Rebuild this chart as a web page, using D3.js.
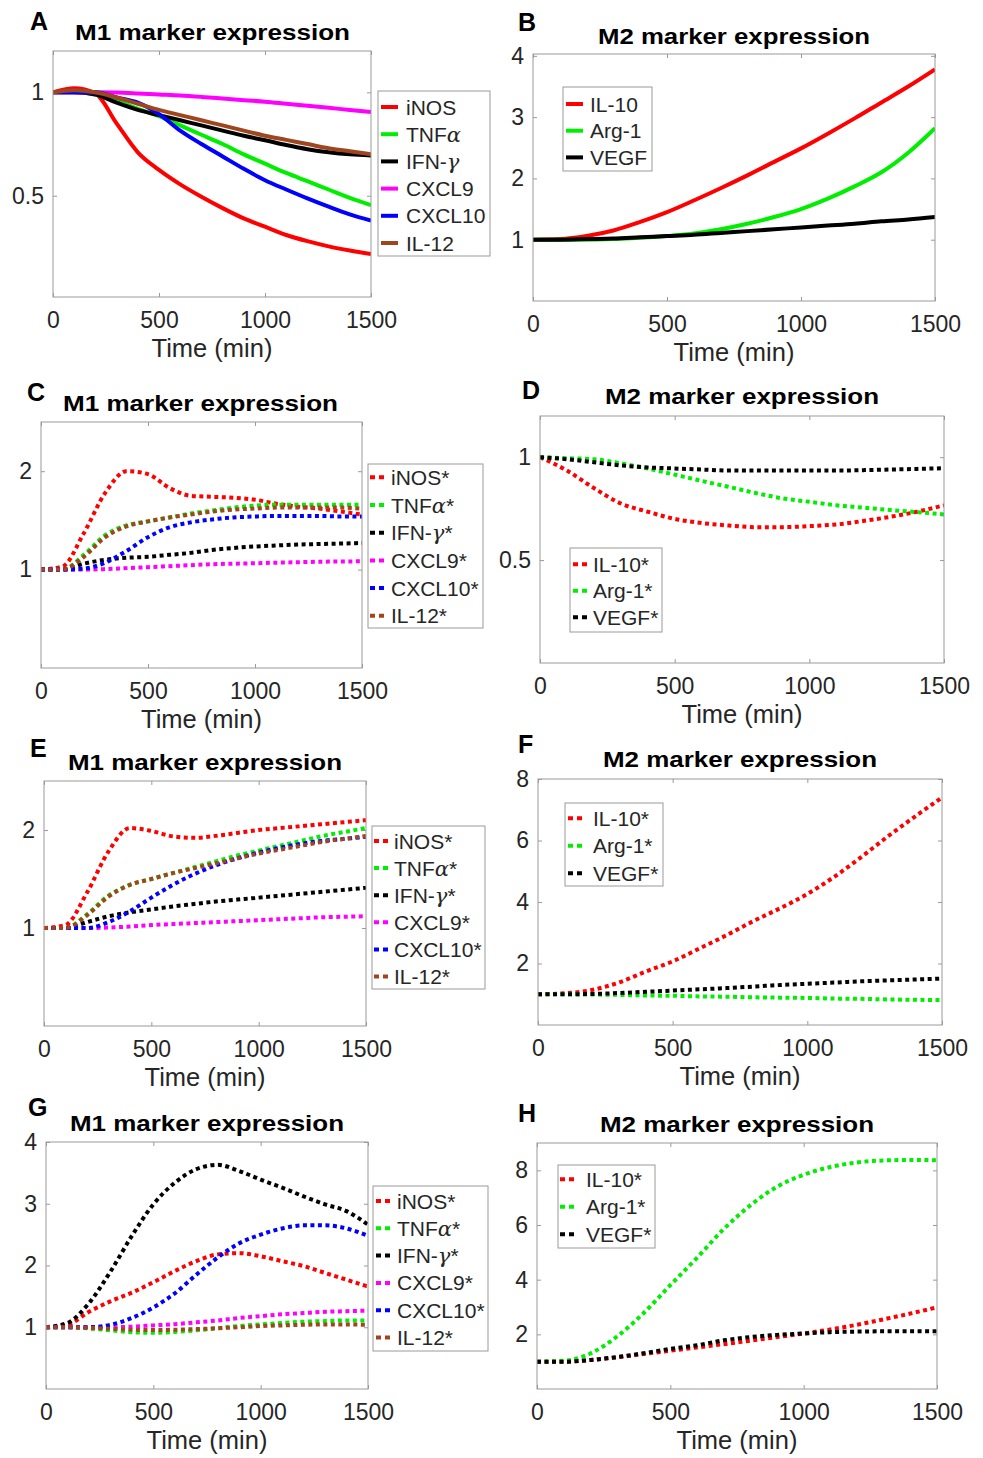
<!DOCTYPE html>
<html>
<head>
<meta charset="utf-8">
<script src="https://cdn.jsdelivr.net/npm/d3@7"></script>
<style>
  body { margin: 0; background: #fff; }
  text { font-family: "Liberation Sans", Arial, sans-serif; }
</style>
</head>
<body>
<div id="chart"></div>
<script>
// shared axes / names
const times = [0, 100, 200, 300, 400, 500, 600, 700, 800, 900, 1000, 1100, 1200, 1300, 1400, 1500];
const xTicks = [0, 500, 1000, 1500];
const m1Names = ["iNOS", "TNFα", "IFN-γ", "CXCL9", "CXCL10", "IL-12"];
const m2Names = ["IL-10", "Arg-1", "VEGF"];
const m1Colors = ["#ff0000", "#00ee00", "#000000", "#ff00ff", "#0000ff", "#a0461e"];
const m2Colors = ["#ff0000", "#00ee00", "#000000"];

// A: M1 markers
const A_yTicks = [0.5, 1];
const A_iNOS   = [1.0, 1.02, 0.995, 0.85, 0.71, 0.625, 0.555, 0.495, 0.44, 0.39, 0.35, 0.31, 0.28, 0.255, 0.235, 0.218];
const A_TNF    = [1, 1, 0.99, 0.96, 0.92, 0.885, 0.84, 0.795, 0.75, 0.70, 0.655, 0.61, 0.57, 0.53, 0.49, 0.455];
const A_IFN    = [1, 1, 0.99, 0.95, 0.915, 0.89, 0.865, 0.84, 0.815, 0.79, 0.768, 0.745, 0.725, 0.71, 0.70, 0.695];
const A_CXCL9  = [1, 1, 1, 0.999, 0.995, 0.99, 0.985, 0.978, 0.97, 0.962, 0.955, 0.945, 0.935, 0.925, 0.915, 0.905];
const A_CXCL10 = [1, 1, 1, 0.975, 0.95, 0.895, 0.815, 0.75, 0.69, 0.63, 0.575, 0.53, 0.487, 0.447, 0.41, 0.38];
const A_IL12   = [1, 1.01, 1.0, 0.975, 0.945, 0.915, 0.89, 0.865, 0.84, 0.815, 0.79, 0.77, 0.75, 0.73, 0.715, 0.70];

// B: M2 markers
const B_yTicks = [1, 2, 3, 4];
const B_IL10 = [1.0, 1.01, 1.06, 1.15, 1.29, 1.45, 1.64, 1.84, 2.05, 2.27, 2.49, 2.73, 2.98, 3.24, 3.5, 3.78];
const B_Arg1 = [1, 1, 1.0, 1.01, 1.03, 1.06, 1.1, 1.17, 1.26, 1.37, 1.5, 1.67, 1.87, 2.1, 2.42, 2.82];
const B_VEGF = [1, 1, 1.01, 1.02, 1.04, 1.06, 1.08, 1.11, 1.14, 1.17, 1.2, 1.23, 1.26, 1.3, 1.33, 1.37];

// C
const C_yTicks = [1, 2];
const C_iNOS   = [1.0, 1.03, 1.37, 1.78, 2.0, 1.97, 1.83, 1.75, 1.74, 1.73, 1.71, 1.67, 1.64, 1.62, 1.59, 1.56];
const C_TNF    = [1, 1.0, 1.15, 1.35, 1.45, 1.49, 1.53, 1.57, 1.6, 1.63, 1.65, 1.66, 1.66, 1.66, 1.66, 1.66];
const C_IFN    = [1, 1.0, 1.06, 1.1, 1.12, 1.13, 1.15, 1.17, 1.2, 1.22, 1.235, 1.245, 1.255, 1.26, 1.265, 1.27];
const C_CXCL9  = [1, 1, 1.0, 1.005, 1.015, 1.025, 1.035, 1.045, 1.055, 1.06, 1.065, 1.07, 1.075, 1.08, 1.082, 1.085];
const C_CXCL10 = [1, 1.0, 1.01, 1.07, 1.19, 1.33, 1.43, 1.48, 1.51, 1.53, 1.54, 1.545, 1.545, 1.545, 1.54, 1.54];
const C_IL12   = [1, 1.0, 1.13, 1.33, 1.44, 1.49, 1.53, 1.56, 1.59, 1.61, 1.62, 1.63, 1.63, 1.63, 1.63, 1.62];

// D
const D_yTicks = [0.5, 1];
const D_IL10 = [1.0, 0.935, 0.85, 0.775, 0.735, 0.70, 0.68, 0.668, 0.66, 0.66, 0.665, 0.673, 0.69, 0.71, 0.735, 0.766];
const D_Arg1 = [1, 0.995, 0.99, 0.97, 0.945, 0.915, 0.885, 0.856, 0.826, 0.80, 0.783, 0.766, 0.755, 0.743, 0.733, 0.722];
const D_VEGF = [1, 0.99, 0.975, 0.96, 0.95, 0.945, 0.94, 0.935, 0.935, 0.935, 0.935, 0.935, 0.937, 0.94, 0.943, 0.946];

// E
const E_yTicks = [1, 2];
const E_iNOS   = [1, 1.03, 1.36, 1.78, 2.02, 1.99, 1.935, 1.92, 1.94, 1.97, 2.0, 2.02, 2.04, 2.06, 2.08, 2.1];
const E_TNF    = [1, 1.0, 1.14, 1.33, 1.44, 1.5, 1.56, 1.62, 1.68, 1.74, 1.79, 1.84, 1.89, 1.94, 1.98, 2.02];
const E_IFN    = [1, 1.0, 1.06, 1.12, 1.16, 1.19, 1.22, 1.245, 1.27, 1.29, 1.31, 1.33, 1.35, 1.37, 1.39, 1.41];
const E_CXCL9  = [1, 1, 1.0, 1.005, 1.015, 1.03, 1.04, 1.05, 1.06, 1.07, 1.08, 1.09, 1.1, 1.11, 1.115, 1.12];
const E_CXCL10 = [1, 1.0, 1.0, 1.06, 1.17, 1.31, 1.44, 1.55, 1.64, 1.71, 1.77, 1.82, 1.86, 1.89, 1.91, 1.93];
const E_IL12   = [1, 1.0, 1.13, 1.32, 1.44, 1.5, 1.56, 1.61, 1.66, 1.71, 1.76, 1.8, 1.84, 1.88, 1.91, 1.94];

// F
const F_yTicks = [2, 4, 6, 8];
const F_IL10 = [1.0, 1.03, 1.14, 1.38, 1.74, 2.07, 2.49, 2.92, 3.38, 3.8, 4.26, 4.82, 5.46, 6.14, 6.78, 7.4];
const F_Arg1 = [1, 1.0, 0.99, 0.98, 0.96, 0.95, 0.93, 0.92, 0.9, 0.89, 0.88, 0.86, 0.85, 0.83, 0.82, 0.81];
const F_VEGF = [1, 1.0, 1.01, 1.04, 1.08, 1.12, 1.16, 1.2, 1.25, 1.3, 1.34, 1.38, 1.42, 1.45, 1.48, 1.51];

// G
const G_yTicks = [1, 2, 3, 4];
const G_iNOS   = [1, 1.04, 1.25, 1.42, 1.56, 1.73, 1.91, 2.07, 2.18, 2.2, 2.15, 2.07, 1.99, 1.88, 1.77, 1.66];
const G_TNF    = [1, 1.0, 0.98, 0.95, 0.92, 0.91, 0.925, 0.95, 0.985, 1.02, 1.045, 1.07, 1.09, 1.1, 1.11, 1.11];
const G_IFN    = [1.0, 1.07, 1.39, 1.9, 2.48, 2.99, 3.34, 3.56, 3.63, 3.53, 3.39, 3.26, 3.12, 2.99, 2.88, 2.66];
const G_CXCL9  = [1, 1, 1.0, 1.0, 1.01, 1.03, 1.05, 1.08, 1.11, 1.15, 1.18, 1.21, 1.23, 1.25, 1.26, 1.27];
const G_CXCL10 = [1, 1.0, 1.0, 1.04, 1.15, 1.32, 1.55, 1.85, 2.13, 2.36, 2.5, 2.6, 2.65, 2.65, 2.6, 2.48];
const G_IL12   = [1, 1.0, 0.99, 0.975, 0.96, 0.955, 0.96, 0.97, 0.985, 1.0, 1.02, 1.03, 1.04, 1.045, 1.045, 1.04];

// H
const H_yTicks = [2, 4, 6, 8];
const H_IL10 = [1, 1.0, 1.06, 1.16, 1.28, 1.4, 1.52, 1.64, 1.77, 1.9, 2.03, 2.18, 2.35, 2.55, 2.76, 2.99];
const H_Arg1 = [1, 1.03, 1.3, 1.92, 2.78, 3.8, 4.8, 5.85, 6.72, 7.4, 7.84, 8.12, 8.29, 8.36, 8.38, 8.37];
const H_VEGF = [1, 1.0, 1.06, 1.17, 1.31, 1.47, 1.6, 1.78, 1.9, 1.98, 2.03, 2.08, 2.1, 2.11, 2.11, 2.11];

const frameColor = "#9a9a9a";
const textColor = "#262626";

const panels = [
  { id: "A", box: [53, 51, 371, 297], yDomain: [0.01, 1.2], yTicks: A_yTicks, names: m1Names, colors: m1Colors,
    series: [A_iNOS, A_TNF, A_IFN, A_CXCL9, A_CXCL10, A_IL12], dotted: false,
    title: [75, 350, 40], letter: [30, 30],
    legend: { box: [378, 91, 490, 256], y0: 107, dy: 27.2, sx: [381, 398], tx: 406 } },
  { id: "B", box: [533, 54, 935, 301], yDomain: [0, 4.03], yTicks: B_yTicks, names: m2Names, colors: m2Colors,
    series: [B_IL10, B_Arg1, B_VEGF], dotted: false,
    title: [598, 870, 44], letter: [518, 31],
    legend: { box: [563, 87, 652, 171], y0: 104, dy: 26.7, sx: [566, 583], tx: 590 } },
  { id: "C", box: [41, 422, 362, 668], yDomain: [0, 2.5], yTicks: C_yTicks, names: m1Names, colors: m1Colors,
    series: [C_iNOS, C_TNF, C_IFN, C_CXCL9, C_CXCL10, C_IL12], dotted: true,
    title: [63, 338, 410.7], letter: [27, 400.7],
    legend: { box: [368, 464, 483, 628], y0: 477.3, dy: 27.7, sx: [370, 384], tx: 391 } },
  { id: "D", box: [540, 416, 944, 663], yDomain: [0, 1.2], yTicks: D_yTicks, names: m2Names, colors: m2Colors,
    series: [D_IL10, D_Arg1, D_VEGF], dotted: true,
    title: [605, 879, 404.3], letter: [522, 399.3],
    legend: { box: [570, 548, 662, 632], y0: 564.3, dy: 26.5, sx: [573, 587], tx: 593 } },
  { id: "E", box: [44, 781, 366, 1026], yDomain: [0, 2.5], yTicks: E_yTicks, names: m1Names, colors: m1Colors,
    series: [E_iNOS, E_TNF, E_IFN, E_CXCL9, E_CXCL10, E_IL12], dotted: true,
    title: [68, 342, 770], letter: [30, 756.7],
    legend: { box: [372, 826, 485, 989], y0: 841, dy: 27.1, sx: [374, 388], tx: 394 } },
  { id: "F", box: [538, 779, 942, 1025], yDomain: [0, 8], yTicks: F_yTicks, names: m2Names, colors: m2Colors,
    series: [F_IL10, F_Arg1, F_VEGF], dotted: true,
    title: [603, 877, 767.3], letter: [518, 752.7],
    legend: { box: [565, 803, 663, 886], y0: 818.3, dy: 27.5, sx: [568, 582], tx: 593 } },
  { id: "G", box: [46, 1142, 368, 1389], yDomain: [0, 4], yTicks: G_yTicks, names: m1Names, colors: m1Colors,
    series: [G_iNOS, G_TNF, G_IFN, G_CXCL9, G_CXCL10, G_IL12], dotted: true,
    title: [70, 344, 1130.7], letter: [28, 1116],
    legend: { box: [373, 1186, 488, 1351], y0: 1201, dy: 27.3, sx: [376, 390], tx: 397 } },
  { id: "H", box: [537, 1143, 937, 1389], yDomain: [0, 9], yTicks: H_yTicks, names: m2Names, colors: m2Colors,
    series: [H_IL10, H_Arg1, H_VEGF], dotted: true,
    title: [600, 874, 1132.3], letter: [518, 1121.7],
    legend: { box: [558, 1165, 655, 1248], y0: 1179.3, dy: 27.5, sx: [560, 574], tx: 586 } }
];

const svg = d3.select("#chart").append("svg")
  .attr("width", 983).attr("height", 1458)
  .style("display", "block");

// label with greek letters set in italic serif (TeX style)
function addLabel(sel, label) {
  label.split(/([αγ])/).filter(s => s.length).forEach(part => {
    const t = sel.append("tspan").text(part);
    if (part === "α" || part === "γ") {
      t.style("font-family", "'DejaVu Serif', serif").style("font-style", "italic");
    }
  });
}

function styleAxis(g) {
  g.select(".domain").remove();
  g.selectAll(".tick line").attr("stroke", frameColor);
  g.selectAll(".tick text")
    .attr("fill", textColor)
    .style("font-family", '"Liberation Sans", Arial, sans-serif')
    .style("font-size", "23px");
}

panels.forEach(p => {
  const [x0, y0, x1, y1] = p.box;
  const x = d3.scaleLinear().domain([0, 1500]).range([x0, x1]);
  const y = d3.scaleLinear().domain(p.yDomain).range([y1, y0]);
  const g = svg.append("g").attr("class", "panel-" + p.id);

  g.append("rect")
    .attr("x", x0).attr("y", y0)
    .attr("width", x1 - x0).attr("height", y1 - y0)
    .attr("fill", "#fff");

  g.append("g").attr("transform", `translate(0,${y1})`)
    .call(d3.axisBottom(x).tickValues(xTicks).tickSize(-4).tickPadding(15).tickFormat(d => d))
    .call(styleAxis);
  g.append("g").attr("transform", `translate(0,${y0})`)
    .call(d3.axisTop(x).tickValues(xTicks).tickSize(-4).tickFormat(""))
    .call(styleAxis);
  g.append("g").attr("transform", `translate(${x0},0)`)
    .call(d3.axisLeft(y).tickValues(p.yTicks).tickSize(-4).tickPadding(9).tickFormat(d => d))
    .call(styleAxis);
  g.append("g").attr("transform", `translate(${x1},0)`)
    .call(d3.axisRight(y).tickValues(p.yTicks).tickSize(-4).tickFormat(""))
    .call(styleAxis);

  const clipId = "clip-" + p.id;
  g.append("clipPath").attr("id", clipId)
    .append("rect").attr("x", x0).attr("y", y0).attr("width", x1 - x0).attr("height", y1 - y0);

  const line = d3.line()
    .x((d, i) => x(times[i]))
    .y(d => y(d))
    .curve(d3.curveMonotoneX);

  g.append("g").attr("clip-path", `url(#${clipId})`)
    .selectAll("path")
    .data(p.series)
    .enter()
    .append("path")
      .attr("d", line)
      .attr("fill", "none")
      .attr("stroke", (d, i) => p.colors[i])
      .attr("stroke-width", 4)
      .attr("stroke-dasharray", p.dotted ? "4 3.5" : null)
      .attr("stroke-linejoin", "round");

  g.append("rect")
    .attr("x", x0).attr("y", y0)
    .attr("width", x1 - x0).attr("height", y1 - y0)
    .attr("fill", "none")
    .attr("stroke", frameColor)
    .attr("stroke-width", 1);

  // titles
  g.append("text")
    .attr("x", p.title[0]).attr("y", p.title[2])
    .attr("textLength", p.title[1] - p.title[0])
    .attr("lengthAdjust", "spacingAndGlyphs")
    .style("font-size", "22px").style("font-weight", "bold")
    .attr("fill", "#000")
    .text((p.names.length > 3 ? "M1" : "M2") + " marker expression");

  g.append("text")
    .attr("x", p.letter[0]).attr("y", p.letter[1])
    .style("font-size", "25px").style("font-weight", "bold")
    .attr("fill", "#000")
    .text(p.id);

  g.append("text")
    .attr("x", (x0 + x1) / 2).attr("y", y1 + 60)
    .attr("text-anchor", "middle")
    .style("font-size", "25.5px")
    .attr("fill", textColor)
    .text("Time (min)");

  // legend
  const L = p.legend;
  const lg = g.append("g");
  lg.append("rect")
    .attr("x", L.box[0]).attr("y", L.box[1])
    .attr("width", L.box[2] - L.box[0]).attr("height", L.box[3] - L.box[1])
    .attr("fill", "#fff").attr("stroke", frameColor).attr("stroke-width", 1);

  const rows = lg.selectAll("g.row")
    .data(p.names)
    .enter()
    .append("g").attr("class", "row")
    .attr("transform", (d, i) => `translate(0,${L.y0 + i * L.dy})`);

  rows.append("line")
    .attr("x1", L.sx[0]).attr("x2", L.sx[1])
    .attr("stroke", (d, i) => p.colors[i])
    .attr("stroke-width", 4)
    .attr("stroke-dasharray", p.dotted ? "5 4" : null);

  rows.append("text")
    .attr("x", L.tx).attr("dy", "0.36em")
    .style("font-size", "21px")
    .attr("fill", textColor)
    .each(function(d) { addLabel(d3.select(this), p.dotted ? d + "*" : d); });
});
</script>
</body>
</html>
